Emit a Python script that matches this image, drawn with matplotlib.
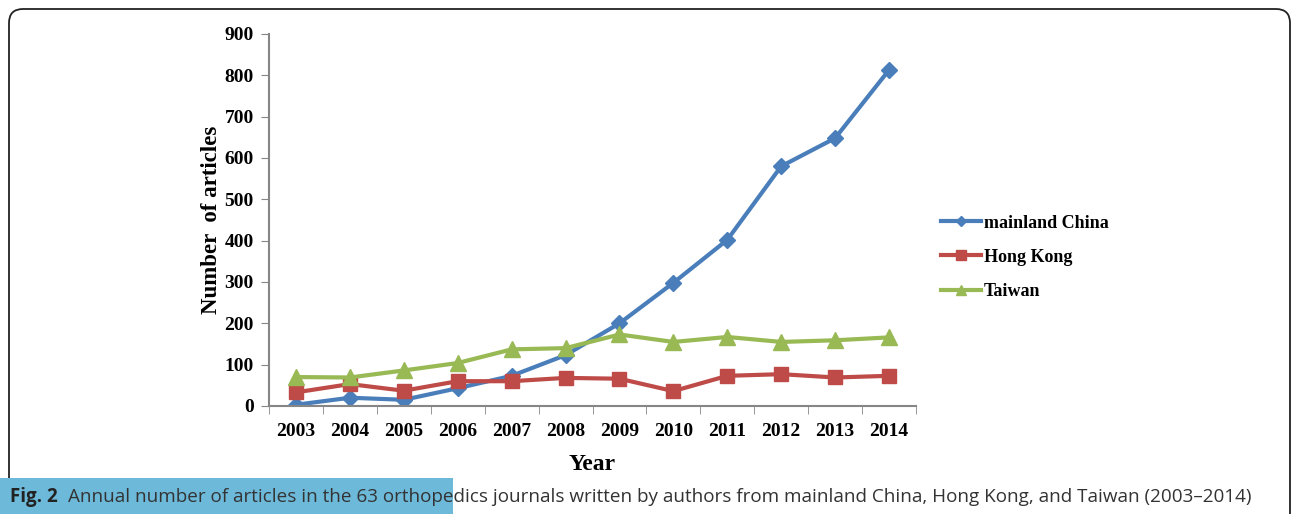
import numpy as np
import matplotlib
matplotlib.use('Agg')
import matplotlib.pyplot as plt
from matplotlib.patches import FancyBboxPatch, Rectangle

years = [2003, 2004, 2005, 2006, 2007, 2008, 2009, 2010, 2011, 2012, 2013, 2014]
china = [3, 20, 15, 43, 73, 123, 200, 298, 402, 580, 648, 813]
hongkong = [33, 53, 37, 60, 60, 68, 66, 36, 73, 77, 69, 73]
taiwan = [70, 69, 86, 104, 137, 140, 173, 155, 167, 155, 159, 166]
series_names = ['mainland China', 'Hong Kong', 'Taiwan']

W, H = 1292, 514
fig = plt.figure(figsize=(W / 100, H / 100), dpi=100)

# rounded frame round the figure panel (display coords, origin bottom-left)
frame = FancyBboxPatch((9, -100), 1281, H - 9 + 100, boxstyle='round,pad=0,rounding_size=14',
                       transform=None, fill=False, edgecolor='#222222', linewidth=1.3)
fig.patches.append(frame)

ax = fig.add_axes([269 / W, 1 - 406 / H, (916 - 269) / W, (406 - 34) / H])

serif = 'Liberation Serif'
ax.plot(years, china, color='#4A7EBB', lw=3, marker='D', ms=8, label=series_names[0])
ax.plot(years, hongkong, color='#BE4B48', lw=3, marker='s', ms=10, label=series_names[1])
ax.plot(years, taiwan, color='#98B954', lw=3, marker='^', ms=11, label=series_names[2])

ax.set_xlim(2002.5, 2014.5)
ax.set_ylim(0, 900)
ax.set_yticks(np.arange(0, 901, 100))
ax.set_xticks(years)
ax.set_xticks(np.arange(2002.5, 2015, 1), minor=True)
ax.tick_params(axis='x', which='major', length=0, pad=12)
ax.tick_params(axis='x', which='minor', length=6, direction='out', color='#868686')
ax.tick_params(axis='y', length=6, direction='out', color='#868686', pad=5)
for lab in ax.get_xticklabels() + ax.get_yticklabels():
    lab.set_fontfamily(serif)
    lab.set_fontweight('bold')
    lab.set_fontsize(14)

for s in ['top', 'right']:
    ax.spines[s].set_visible(False)
for s in ['left', 'bottom']:
    ax.spines[s].set_color('#868686')
    ax.spines[s].set_linewidth(1.5)

ax.set_xlabel('Year', fontfamily=serif, fontweight='bold', fontsize=17, labelpad=10)
ax.set_ylabel('Number  of articles', fontfamily=serif, fontweight='bold', fontsize=16.5, labelpad=2)

leg = ax.legend(loc='center left', bbox_to_anchor=(1.014, 0.40), frameon=False,
                prop={'family': serif, 'weight': 'bold', 'size': 13},
                handlelength=2.2, handletextpad=0.15, labelspacing=0.95, markerscale=0.7)

# caption with its blue highlight
fig.patches.append(Rectangle((0, 0), 453, 36, transform=None, facecolor='#6DB9DA',
                             edgecolor='none'))
fig.text(10 / W, 1 - 497 / H, 'Fig. 2', fontfamily='Open Sans', fontweight='bold',
         fontsize=13.5, va='center', ha='left', color='#222222')
fig.text(68 / W, 1 - 497 / H,
         'Annual number of articles in the 63 orthopedics journals written by authors '
         'from mainland China, Hong Kong, and Taiwan (2003\u20132014)',
         fontfamily='Open Sans', fontsize=13.6, va='center', ha='left', color='#333333')

fig.savefig('out.png', dpi=100)
